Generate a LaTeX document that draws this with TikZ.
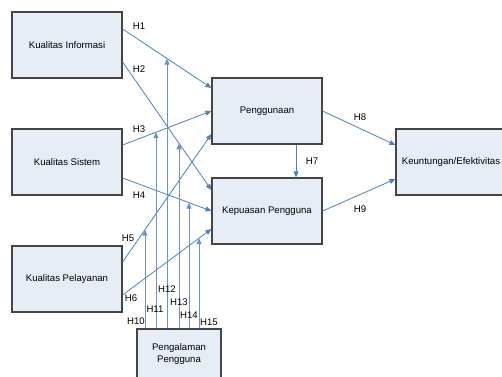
\documentclass[tikz,border=0pt]{standalone}
\usepackage{fontspec}
\setmainfont{Liberation Sans}
\usetikzlibrary{arrows.meta,intersections}
\definecolor{lineblue}{HTML}{4F81BD}
\definecolor{vblue}{HTML}{6A93CE}
\definecolor{boxfill}{HTML}{E7EDF7}
\definecolor{boxdraw}{HTML}{454545}
\tikzset{
  varbox/.style={draw=boxdraw, line width=1.2bp, fill=boxfill, minimum width=110bp, minimum height=66bp, inner sep=0pt, align=center, font=\fontsize{9.6bp}{12bp}\selectfont},
  hyp/.style={lineblue, line width=0.8bp, -{Triangle[length=6bp,width=5bp]}},
  modl/.style={vblue, line width=0.9bp, -{Triangle[length=6bp,width=5bp]}},
  hlab/.style={inner sep=0pt, font=\fontsize{9.6bp}{12bp}\selectfont}
}
\begin{document}
\begin{tikzpicture}[x=1bp,y=-1bp]
\useasboundingbox (0,0) rectangle (502,376);
\fill[white] (0,0) rectangle (502,376);
\clip (0,0) rectangle (502,376);
\node[varbox] (KI) at (67,45) {Kualitas Informasi};
\node[varbox] (KS) at (67,162) {Kualitas Sistem};
\node[varbox] (KP) at (67,279) {Kualitas Pelayanan};
\node[varbox] (PG) at (267,111) {Penggunaan};
\node[varbox] (KPU) at (267,211) {Kepuasan Pengguna};
\node[varbox] (KE) at (451,162) {Keuntungan/Efektivitas};
\node[varbox, minimum width=84bp, minimum height=50bp] (PE) at (179,354) {Pengalaman\\Pengguna};
% hypotheses
\draw[hyp, name path=ha] ([yshift=16bp]KI.east) -- ([yshift=23bp]PG.west);
\draw[hyp, name path=hb] ([yshift=-17bp]KI.east) -- ([yshift=21bp]KPU.west);
\draw[hyp, name path=hc] ([yshift=17bp]KS.east) -- (PG.west);
\draw[hyp, name path=hd] ([yshift=-16bp]KS.east) -- (KPU.west);
\draw[hyp, name path=he] ([yshift=17bp]KP.east) -- ([yshift=-23bp]PG.west);
\draw[hyp, name path=hf] ([yshift=-16bp]KP.east) -- ([yshift=-18bp]KPU.west);
\draw[hyp] ([xshift=29bp]PG.south) -- ([xshift=29bp]KPU.north);
\draw[hyp] (PG.east) -- ([yshift=17bp]KE.west);
\draw[hyp] (KPU.east) -- ([yshift=-17bp]KE.west);
% moderators
\coordinate (s10) at ([xshift=-34bp]PE.north);
\coordinate (s11) at ([xshift=-23bp]PE.north);
\coordinate (s12) at ([xshift=-12bp]PE.north);
\coordinate (s13) at (PE.north);
\coordinate (s14) at ([xshift=10bp]PE.north);
\coordinate (s15) at ([xshift=20bp]PE.north);
\path[name path=va] (s10) -- ++(0,-330);
\path[name path=vb] (s11) -- ++(0,-330);
\path[name path=vc] (s12) -- ++(0,-330);
\path[name path=vd] (s13) -- ++(0,-330);
\path[name path=ve] (s14) -- ++(0,-330);
\path[name path=vf] (s15) -- ++(0,-330);
\path[name intersections={of=va and he, by=m10}];
\path[name intersections={of=vb and hc, by=m11}];
\path[name intersections={of=vc and ha, by=m12}];
\path[name intersections={of=vd and hb, by=m13}];
\path[name intersections={of=ve and hd, by=m14}];
\path[name intersections={of=vf and hf, by=m15}];
\draw[modl] (s10) -- (m10);
\draw[modl] (s11) -- (m11);
\draw[modl] (s12) -- (m12);
\draw[modl] (s13) -- (m13);
\draw[modl] (s14) -- (m14);
\draw[modl] (s15) -- (m15);
% labels
\node[hlab] (L1) at (139,26) {H1};
\node[hlab] (L2) at (139,69) {H2};
\node[hlab] (L3) at (139,129) {H3};
\node[hlab] (L4) at (139,195) {H4};
\node[hlab] (L5) at (128,238) {H5};
\node[hlab] (L6) at (131,298) {H6};
\node[hlab] (L7) at (312,161) {H7};
\node[hlab] (L8) at (360,117) {H8};
\node[hlab] (L9) at (360,209) {H9};
\node[hlab] (L10) at (136,321) {H10};
\node[hlab] (L11) at (155,309) {H11};
\node[hlab] (L12) at (167,289) {H12};
\node[hlab] (L13) at (179,302) {H13};
\node[hlab] (L14) at (189,315) {H14};
\node[hlab] (L15) at (209,322) {H15};
\end{tikzpicture}
\end{document}
